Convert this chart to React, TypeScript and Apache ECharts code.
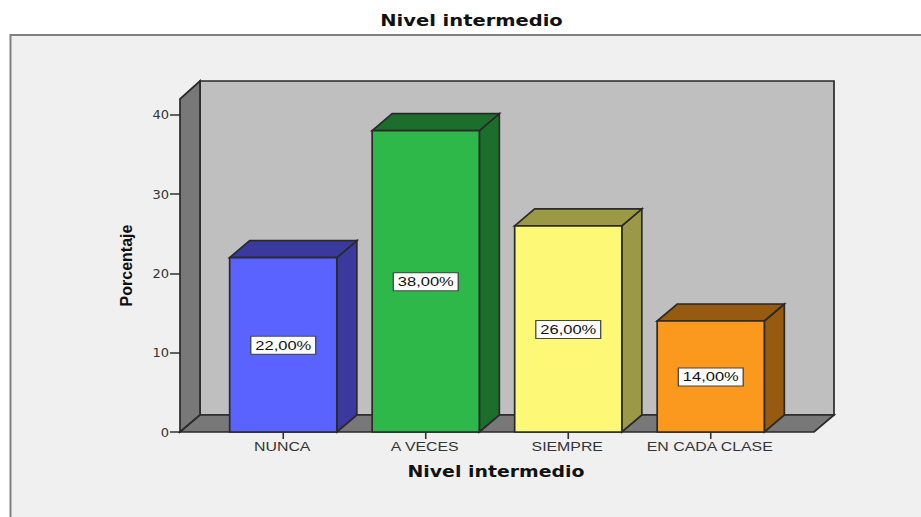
import React, { useEffect, useRef } from "react";
import * as echarts from "echarts";

const categories = ["NUNCA", "A VECES", "SIEMPRE", "EN CADA CLASE"];
const values = [22, 38, 26, 14];
const valueLabels = ["22,00%", "38,00%", "26,00%", "14,00%"];
const frontColors = ["#5a62ff", "#2eb84a", "#fdf875", "#fb981e"];
const sideColors = ["#3a3a9e", "#1c6e2c", "#9c9946", "#965a10"];
const yTicks = [0, 10, 20, 30, 40];
const title = "Nivel intermedio";
const yName = "Porcentaje";
const xName = "Nivel intermedio";

const DEPTH_X = 20;
const DEPTH_Y = 18;
const EDGE = "#2a2a2a";
const WIDE = 1.27;

export default function App() {
  const ref = useRef<HTMLDivElement>(null);
  useEffect(() => {
    const chart = echarts.init(ref.current!, undefined, { renderer: "svg" });
    const heading = { fontFamily: "DejaVu Sans", fontWeight: "bold", fontSize: 15, fill: "#111", align: "center", verticalAlign: "middle" };
    chart.setOption({
      animation: false,
      backgroundColor: "#ffffff",
      graphic: [
        {
          type: "rect",
          z: -10,
          silent: true,
          shape: { x: 10.5, y: 35, width: 930, height: 500 },
          style: { fill: "#f0f0f0", stroke: "#808080", lineWidth: 2 },
        },
        { type: "text", z: 5, silent: true, x: 471.5, y: 21, scaleX: 1.3, style: { ...heading, text: title } },
        { type: "text", z: 5, silent: true, x: 496, y: 472, scaleX: 1.26, style: { ...heading, text: xName } },
      ],
      grid: { left: 212, right: 139, top: 99, bottom: 85, containLabel: false },
      xAxis: {
        type: "category",
        data: categories,
        axisLine: { show: false },
        axisTick: { show: false },
        axisLabel: { show: false },
      },
      yAxis: {
        type: "value",
        min: 0,
        max: 42,
        interval: 10,
        offset: 32,
        name: yName,
        nameLocation: "middle",
        nameGap: 46,
        nameRotate: 90,
        nameTextStyle: { fontFamily: "Liberation Sans", fontWeight: "bold", fontSize: 16, color: "#111" },
        splitLine: { show: false },
        axisLine: { show: false },
        axisTick: { show: true, customValues: yTicks, length: 10, lineStyle: { color: "#333", width: 1.5 } },
        axisLabel: { customValues: yTicks, fontFamily: "DejaVu Sans", fontSize: 13, color: "#333", margin: 11 },
      },
      series: [
        {
          type: "custom",
          z: 2,
          silent: true,
          clip: false,
          coordinateSystem: "cartesian2d",
          data: [[0, 42]],
          renderItem: (_p: any, api: any) => {
            const band = api.size([1, 0])[0];
            const first = api.coord([0, 0]);
            const last = api.coord([categories.length - 1, 0]);
            const top = api.coord([0, 42])[1];
            const base = first[1];
            const l = first[0] - band / 2 - 32;
            const r = last[0] + band / 2 + 32;
            const style = { stroke: EDGE, lineWidth: 1.7, lineJoin: "miter" };
            return {
              type: "group",
              children: [
                {
                  type: "polygon",
                  shape: { points: [[l + DEPTH_X, top - DEPTH_Y], [r + DEPTH_X, top - DEPTH_Y], [r + DEPTH_X, base - DEPTH_Y + 1], [l + DEPTH_X, base - DEPTH_Y + 1]] },
                  style: { ...style, fill: "#bfbfbf" },
                },
                {
                  type: "polygon",
                  shape: { points: [[l, base], [l + DEPTH_X, base - DEPTH_Y + 1], [l + DEPTH_X, top - DEPTH_Y], [l, top]] },
                  style: { ...style, fill: "#787878" },
                },
                {
                  type: "polygon",
                  shape: { points: [[l, base], [r, base], [r + DEPTH_X, base - DEPTH_Y + 1], [l + DEPTH_X, base - DEPTH_Y + 1]] },
                  style: { ...style, fill: "#787878" },
                },
              ],
            };
          },
        },
        {
          type: "custom",
          z: 3,
          silent: true,
          clip: false,
          coordinateSystem: "cartesian2d",
          data: values.map((v, i) => [i, v]),
          renderItem: (p: any, api: any) => {
            const i = p.dataIndex;
            const band = api.size([1, 0])[0];
            const w = band * 0.752;
            const [cx, yTop] = api.coord([api.value(0), api.value(1)]);
            const yBase = api.coord([0, 0])[1];
            const yMid = api.coord([0, api.value(1) / 2])[1];
            const l = cx - w / 2;
            const r = cx + w / 2;
            const depthY = DEPTH_Y - 1;
            const edge = { stroke: EDGE, lineWidth: 1.7, lineJoin: "miter" };
            return {
              type: "group",
              children: [
                {
                  type: "polygon",
                  shape: { points: [[cx - 0.8, yBase], [cx + 0.8, yBase], [cx + 0.8, yBase + 7], [cx - 0.8, yBase + 7]] },
                  style: { fill: "#333" },
                },
                {
                  type: "polygon",
                  shape: { points: [[r, yBase], [r + DEPTH_X, yBase - depthY], [r + DEPTH_X, yTop - depthY], [r, yTop]] },
                  style: { ...edge, fill: sideColors[i] },
                },
                {
                  type: "polygon",
                  shape: { points: [[l, yTop], [l + DEPTH_X, yTop - depthY], [r + DEPTH_X, yTop - depthY], [r, yTop]] },
                  style: { ...edge, fill: sideColors[i] },
                },
                {
                  type: "rect",
                  shape: { x: l, y: yTop, width: w, height: yBase - yTop },
                  style: { ...edge, fill: frontColors[i] },
                },
                {
                  type: "text",
                  x: cx,
                  y: yMid + 0.5,
                  scaleX: WIDE,
                  style: {
                    text: valueLabels[i],
                    fontFamily: "Liberation Sans",
                    fontSize: 13,
                    fill: "#111",
                    align: "center",
                    verticalAlign: "middle",
                    backgroundColor: "#ffffff",
                    borderColor: "#444",
                    borderWidth: 1,
                    padding: [2, 3, 2, 3],
                  },
                },
                {
                  type: "text",
                  x: cx - 1,
                  y: yBase + 15,
                  scaleX: WIDE,
                  style: {
                    text: categories[i],
                    fontFamily: "Liberation Sans",
                    fontSize: 12.5,
                    fill: "#333",
                    align: "center",
                    verticalAlign: "middle",
                  },
                },
              ],
            };
          },
        },
      ],
    });
    return () => chart.dispose();
  }, []);
  return <div ref={ref} style={{ position: "absolute", left: 0, top: 0, width: 921, height: 517 }} />;
}
